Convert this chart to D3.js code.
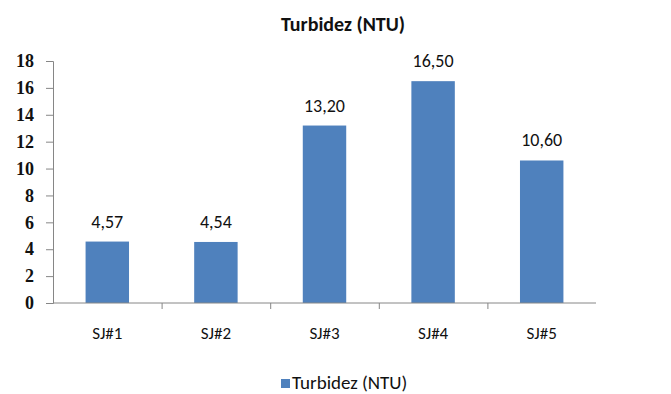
<!DOCTYPE html>
<html>
<head>
<meta charset="utf-8">
<script src="https://cdn.jsdelivr.net/npm/d3@7/dist/d3.min.js"></script>
<style>
  html, body { margin: 0; padding: 0; background: #fff; }
  svg { display: block; }
</style>
</head>
<body>
<svg id="chart" width="671" height="394"></svg>
<script>
// Turbidity per sampling point
const categories = ["SJ#1", "SJ#2", "SJ#3", "SJ#4", "SJ#5"];
const turbidity = [4.57, 4.54, 13.20, 16.50, 10.60];
const yTicks = [0, 2, 4, 6, 8, 10, 12, 14, 16, 18];
const seriesName = "Turbidez (NTU)";

const svg = d3.select("#chart");
const W = 671, H = 394;
const margin = { left: 53, right: 75, top: 61, bottom: 91 };
const plotW = W - margin.left - margin.right;
const plotH = H - margin.top - margin.bottom;
const barColor = "#4f81bd";
const labelFont = "Carlito, Calibri, 'Liberation Sans', Arial, sans-serif";

const x = d3.scaleBand().domain(categories).range([0, plotW]).paddingInner(0.6).paddingOuter(0.3);
const xTickScale = d3.scaleBand().domain(categories).range([0, plotW]);
const y = d3.scaleLinear().domain([0, 18]).range([plotH, 0]);

const g = svg.append("g").attr("transform", `translate(${margin.left},${margin.top})`);

// Title
svg.append("text")
  .attr("x", 343).attr("y", 31)
  .attr("text-anchor", "middle")
  .attr("font-family", labelFont)
  .attr("font-weight", "bold")
  .attr("font-size", 20)
  .attr("fill", "#111")
  .text(seriesName);

// Y axis
const yAxis = g.append("g")
  .call(d3.axisLeft(y).tickValues(yTicks).tickSize(7).tickPadding(12).tickFormat(d3.format("d")));
yAxis.select(".domain").attr("stroke", "#868686");
yAxis.selectAll(".tick line").attr("stroke", "#868686");
yAxis.selectAll(".tick text")
  .attr("font-family", "'Liberation Serif', 'Times New Roman', serif")
  .attr("font-weight", "bold")
  .attr("font-size", 18)
  .attr("fill", "#111");

// Bars
g.selectAll("rect.bar")
  .data(categories.map((c, i) => ({ c, v: turbidity[i] })))
  .join("rect")
  .attr("class", "bar")
  .attr("x", d => x(d.c))
  .attr("width", x.bandwidth())
  .attr("y", d => y(d.v))
  .attr("height", d => plotH - y(d.v))
  .attr("fill", barColor);

// Value labels
g.selectAll("text.val")
  .data(categories.map((c, i) => ({ c, v: turbidity[i] })))
  .join("text")
  .attr("class", "val")
  .attr("x", d => x(d.c) + x.bandwidth() / 2)
  .attr("y", d => y(d.v) - 14)
  .attr("text-anchor", "middle")
  .attr("font-family", labelFont)
  .attr("font-size", 18)
  .attr("fill", "#111")
  .text(d => d.v.toFixed(2).replace(".", ","));

// X axis with ticks at category boundaries
const xAxisG = g.append("g").attr("transform", `translate(0,${plotH})`);
xAxisG.append("line")
  .attr("x1", 0).attr("x2", plotW)
  .attr("stroke", "#868686");
xAxisG.selectAll("line.tk")
  .data(categories.slice(1))
  .join("line")
  .attr("class", "tk")
  .attr("x1", d => xTickScale(d) + 0.5).attr("x2", d => xTickScale(d) + 0.5)
  .attr("y1", 0).attr("y2", 6)
  .attr("stroke", "#868686");
xAxisG.selectAll("text")
  .data(categories)
  .join("text")
  .attr("x", d => x(d) + x.bandwidth() / 2)
  .attr("y", 36)
  .attr("text-anchor", "middle")
  .attr("font-family", labelFont)
  .attr("font-size", 17)
  .attr("fill", "#111")
  .text(d => d);

// Legend
const legend = svg.append("g").attr("transform", "translate(281,379)");
legend.append("rect").attr("x", 0).attr("y", 0).attr("width", 9).attr("height", 9).attr("fill", barColor);
legend.append("text")
  .attr("x", 11).attr("y", 10)
  .attr("font-family", labelFont)
  .attr("font-size", 19)
  .attr("fill", "#111")
  .text(seriesName);
</script>
</body>
</html>
